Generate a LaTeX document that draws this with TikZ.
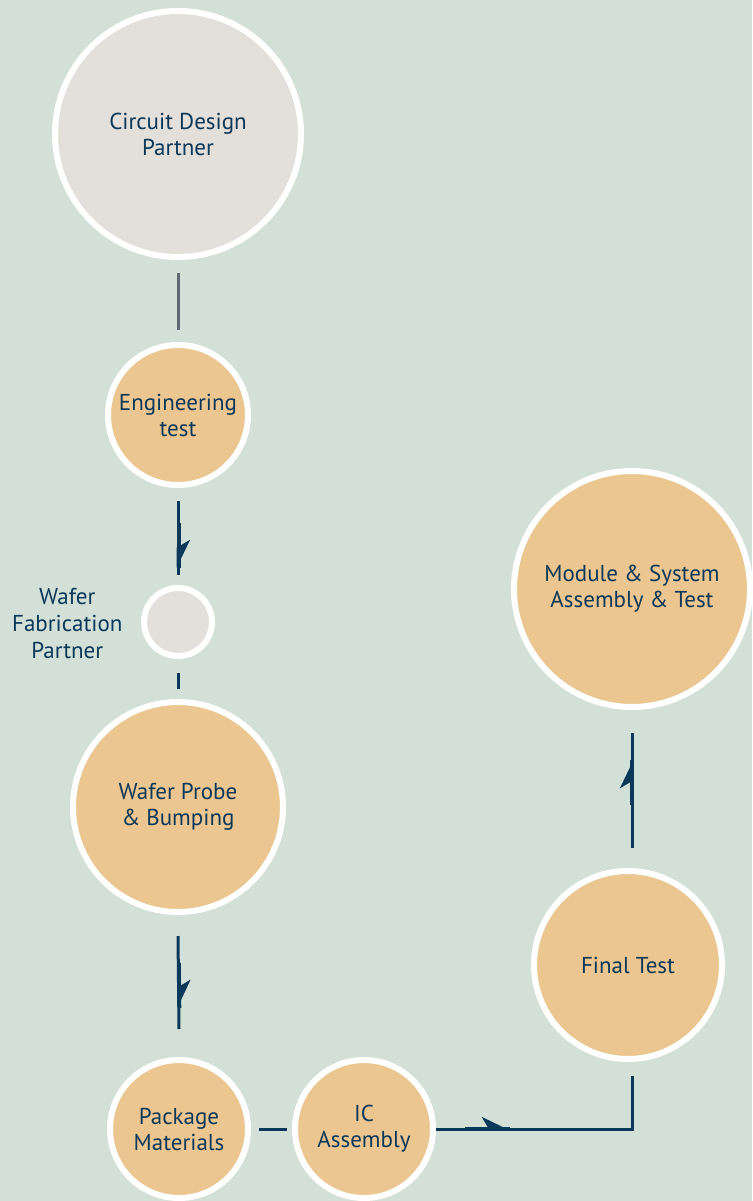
\documentclass[tikz,border=0pt]{standalone}
\usepackage{fontspec}
\setmainfont{PT Sans}
\usetikzlibrary{positioning,calc,arrows.meta,decorations.markings}
\definecolor{bgcol}{HTML}{D3E0D8}
\definecolor{tancol}{HTML}{ECC690}
\definecolor{greycol}{HTML}{E3DFDB}
\definecolor{inkcol}{HTML}{0B3859}
\definecolor{pipecol}{HTML}{0A3858}
\definecolor{stemcol}{HTML}{5E6A72}
\begin{document}
\begin{tikzpicture}[x=1pt, y=1pt,
  every node/.style={font=\fontsize{23}{26}\selectfont, text=inkcol, align=center},
  stage/.style={circle, draw=white, line width=6pt, fill=tancol, inner sep=0pt},
  partner/.style={stage, fill=greycol},
  pipe/.style={draw=pipecol, line width=3pt},
  flowmark/.style={postaction={decorate, decoration={markings,
    mark=at position #1 with {\fill[pipecol] (-45,0) rectangle (0,2.5);
      \arrow{Stealth[harpoon, length=25pt, width=24pt, inset=7pt]}}}}}]
% Background
\fill[bgcol] (0,0) rectangle (752,-1201);
\useasboundingbox (0,0) rectangle (752,-1201);
% Stages
\node[partner, minimum size=246pt] (design) at (178,-134) {Circuit Design\\Partner};
\node[stage, minimum size=140pt] (eng) at (178,-415) {Engineering\\test};
\node[partner, minimum size=68pt] (fab) at (178,-622) {};
\node[left=15pt of fab, font=\fontsize{23}{27}\selectfont, yshift=-2pt] (fablabel) {Wafer\\Fabrication\\Partner};
\node[stage, minimum size=210pt] (probe) at (178,-807) {Wafer Probe\\\& Bumping};
\node[stage, minimum size=138pt] (pkg) at (179,-1129) {Package\\Materials};
\node[stage, minimum size=138pt] (ic) at (364,-1129) {IC\\Assembly};
\node[stage, minimum size=188pt] (final) at (628,-965) {Final Test};
\node[stage, minimum size=236pt] (module) at (632,-589) {Module \& System\\Assembly \& Test};
% Connectors
\draw[draw=stemcol, line width=3pt] ($(design.south)+(0,-13)$) -- ($(eng.north)+(0,12)$);
\draw[pipe, flowmark=67pt] ($(eng.south)+(0,-13)$) -- ($(fab.north)+(0,10)$);
\draw[pipe] ($(fab.south)+(0,-14)$) -- ($(probe.north)+(0,10)$);
\draw[pipe, flowmark=72pt] ($(probe.south)+(0,-21)$) -- ($(pkg.north)+(0,28)$);
\draw[pipe] ($(pkg.east)+(8,0)$) -- ($(ic.west)+(-5,0)$);
\draw[pipe, flowmark=74pt] (ic.east) -| ($(final.south)+(4,-14)$);
\draw[pipe, flowmark=88pt] ($(final.north)+(4,20)$) -- ($(module.south)+(0,-23)$);
\end{tikzpicture}
\end{document}
